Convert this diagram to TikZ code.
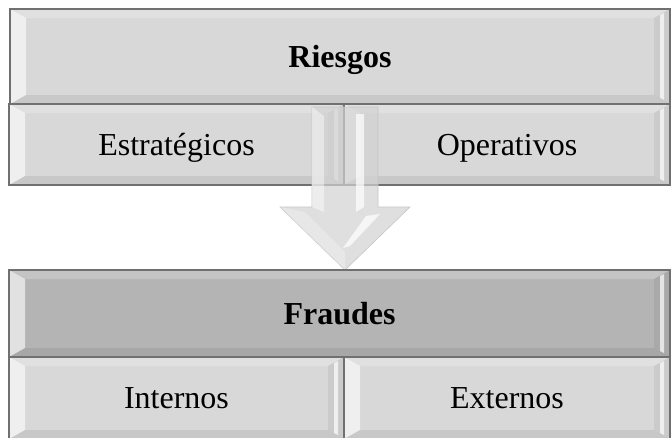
\documentclass[tikz,border=0pt]{standalone}
\usepackage{fontspec}
\setmainfont{Liberation Serif}
\usetikzlibrary{calc}
\definecolor{edgegray}{HTML}{707070}
\definecolor{lightface}{HTML}{D8D8D8}
\definecolor{darkface}{HTML}{B4B4B4}
\definecolor{arrowface}{HTML}{D2D2D2}
\newcommand{\bvx}{16pt}
\newcommand{\bvy}{9pt}
\tikzset{
  bevelbox/.style={
    rectangle, draw=edgegray, line width=1.1pt, inner sep=0pt, outer sep=0pt,
    font=\fontsize{32}{38}\selectfont, text depth=0pt, yshift=0pt,
    path picture={
      \coordinate (bnw) at (path picture bounding box.north west);
      \coordinate (bne) at (path picture bounding box.north east);
      \coordinate (bsw) at (path picture bounding box.south west);
      \coordinate (bse) at (path picture bounding box.south east);
      \coordinate (inw) at ($(bnw)+(\bvx,-\bvy)$);
      \coordinate (ine) at ($(bne)+(-\bvx,-\bvy)$);
      \coordinate (isw) at ($(bsw)+(\bvx,\bvy)$);
      \coordinate (ise) at ($(bse)+(-\bvx,\bvy)$);
      % top, left, right and bottom faces of the bevel
      \fill[white, opacity=0.22] (bnw) -- (bne) -- (ine) -- (inw) -- cycle;
      \fill[white, opacity=0.6] (bnw) -- (inw) -- (isw) -- (bsw) -- cycle;
      \fill[black, opacity=0.06] (bne) -- (bse) -- (ise) -- (ine) -- cycle;
      \fill[white, opacity=0.7] ($(bne)+(-6pt,-4pt)$) -- ($(bse)+(-6pt,4pt)$)
                                 -- ($(bse)+(-10pt,6pt)$) -- ($(bne)+(-10pt,-6pt)$) -- cycle;
      \fill[black, opacity=0.07] (bsw) -- (bse) -- (ise) -- (isw) -- cycle;
    }
  },
  lightbox/.style={bevelbox, fill=lightface},
  darkbox/.style={bevelbox, fill=darkface},
  blockarrow/.style={fill=arrowface, fill opacity=0.7, draw=gray!45, line width=0.6pt}
}
\begin{document}
\begin{tikzpicture}[x=1pt, y=-1pt]
  \useasboundingbox[fill=white] (0,0) rectangle (671,437);

  % upper group
  \node[lightbox, minimum width=660, minimum height=95] (riesgos) at (340,56.5) {\bfseries Riesgos};
  \node[lightbox, minimum width=335, minimum height=81] (estrategicos) at (176.5,144.5) {Estratégicos};
  \node[lightbox, minimum width=326, minimum height=81] (operativos) at (507,144.5) {Operativos};

  % block arrow between the groups
  \coordinate (ashaft) at (345,107);
  \coordinate (atip) at (345,270);
  \draw[blockarrow] ($(ashaft)+(-33,0)$) -- ($(ashaft)+(33,0)$) -- (378,207) -- (410,207)
        -- (atip) -- (280,207) -- (312,207) -- cycle;
  \fill[white, opacity=0.45] ($(ashaft)+(-33,0)$) -- ($(ashaft)+(-21,9)$) -- (324,212) -- (312,207) -- cycle;
  \fill[white, opacity=0.7] (356,114) -- (364,114) -- (364,207) -- (356,212) -- cycle;
  \fill[white, opacity=0.25] (280,207) -- (305,212) -- (345,252) -- (atip) -- cycle;
  \fill[white, opacity=0.75] (366,216) -- (380,214) -- (350,246) -- (343,248) -- cycle;

  % lower group
  \node[darkbox, minimum width=661, minimum height=87] (fraudes) at (339.5,313.5) {\bfseries Fraudes};
  \node[lightbox, minimum width=335, minimum height=82] (internos) at (176.5,398) {Internos};
  \node[lightbox, minimum width=326, minimum height=82] (externos) at (507,398) {Externos};
\end{tikzpicture}
\end{document}
